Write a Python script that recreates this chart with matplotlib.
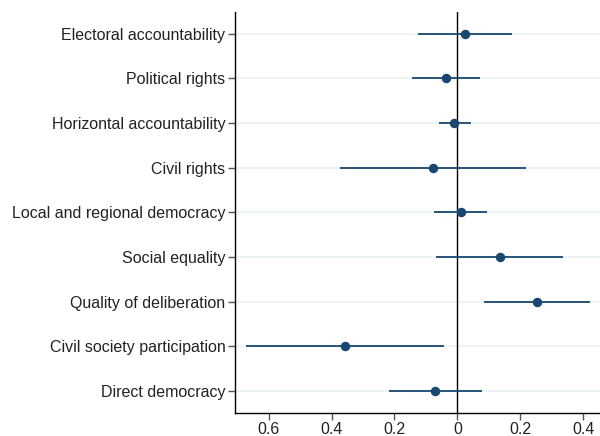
import matplotlib

matplotlib.use('Agg')
import numpy as np
import matplotlib.pyplot as plt
from matplotlib.ticker import FuncFormatter

matplotlib.rcParams.update({'font.size': 11.5, 'font.family': ['Liberation Sans', 'DejaVu Sans']})

labels = ['Electoral accountability', 'Political rights', 'Horizontal accountability',
          'Civil rights', 'Local and regional democracy', 'Social equality',
          'Quality of deliberation', 'Civil society participation', 'Direct democracy']
coef = [0.024, -0.036, -0.010, -0.079, 0.011, 0.134, 0.252, -0.357, -0.070]
ci_lo = [-0.124, -0.143, -0.060, -0.372, -0.074, -0.067, 0.085, -0.672, -0.217]
ci_hi = [0.173, 0.072, 0.042, 0.217, 0.094, 0.336, 0.421, -0.043, 0.077]
xticks = [-0.6, -0.4, -0.2, 0, 0.2, 0.4]

NAVY = '#1a476f'

fig = plt.figure(figsize=(6, 4.36), dpi=100)
ax = fig.add_axes([0.392, 0.053, 0.608, 0.919])

y = np.arange(1, len(labels) + 1)
for yy in y:
    ax.axhline(yy, color='#eaf2f3', lw=1.2, zorder=0)
ax.axvline(0, color='black', lw=1.0, zorder=1)
ax.hlines(y, ci_lo, ci_hi, color=NAVY, lw=1.3, zorder=2)
ax.plot(coef, y, 'o', color=NAVY, ms=5.8, zorder=3)

ax.set_yticks(y)
ax.set_yticklabels(labels)
ax.set_ylim(9.49, 0.52)
ax.set_xlim(-0.706, 0.453)
ax.set_xticks(xticks)
ax.xaxis.set_major_formatter(FuncFormatter(lambda v, p: '0' if abs(v) < 1e-9 else '%.1f' % abs(v)))

for s in ['top', 'right']:
    ax.spines[s].set_visible(False)
ax.spines['left'].set_linewidth(1.0)
ax.spines['bottom'].set_linewidth(1.0)
ax.tick_params(axis='both', direction='out', length=5, width=1.0, color='#555555', labelcolor='#222222')
ax.tick_params(axis='y', pad=2)
ax.tick_params(axis='x', pad=1.5)

plt.savefig('out.png', dpi=100)
